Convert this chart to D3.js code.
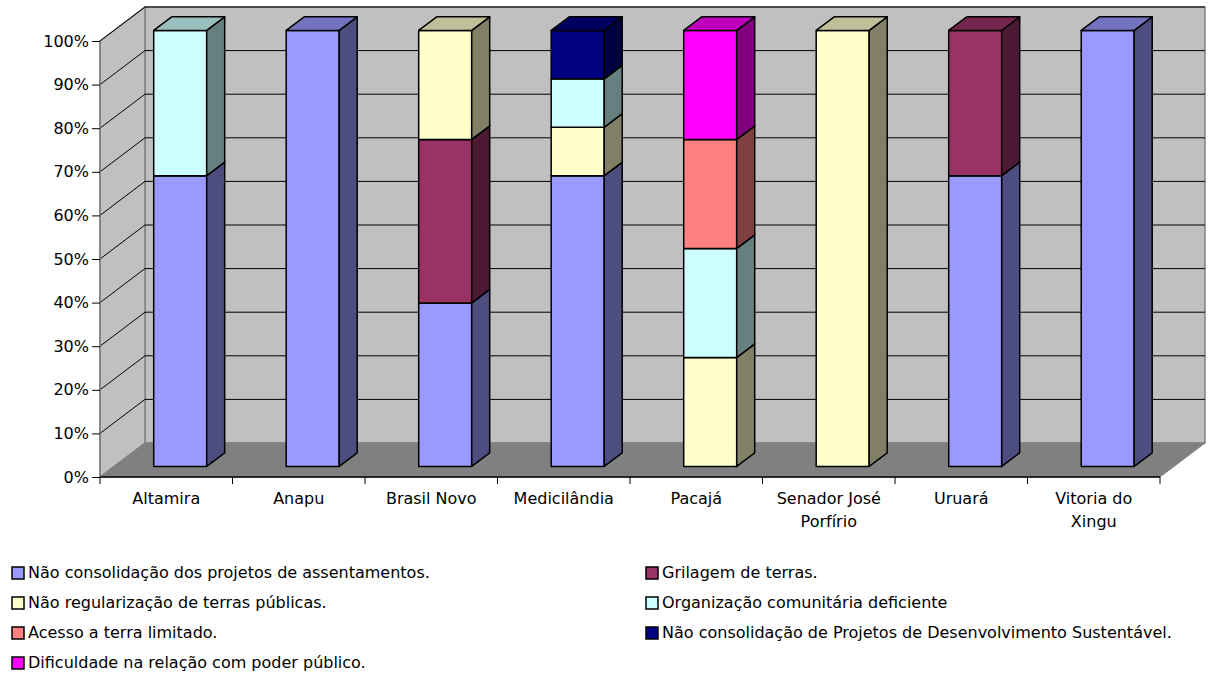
<!DOCTYPE html>
<html>
<head>
<meta charset="utf-8">
<script src="https://cdn.jsdelivr.net/npm/d3@7"></script>
<style>
  body { margin: 0; background: #fff; }
  text { font-family: Verdana, "DejaVu Sans", sans-serif; fill: #000; }
</style>
</head>
<body>
<svg id="chart" width="1209" height="673"></svg>
<script>
// categories (municipios)
var categories = ["Altamira", "Anapu", "Brasil Novo", "Medicilândia", "Pacajá", "Senador José Porfírio", "Uruará", "Vitoria do Xingu"];

// series names, in stacking order
var seriesNames = [
  "Não consolidação dos projetos de assentamentos.",
  "Grilagem de terras.",
  "Não regularização de terras públicas.",
  "Organização comunitária deficiente",
  "Acesso a terra limitado.",
  "Não consolidação de Projetos de Desenvolvimento Sustentável.",
  "Dificuldade na relação com poder público."
];
var seriesColors = ["#9999FF", "#993366", "#FFFFCC", "#CCFFFF", "#FF8080", "#000080", "#FF00FF"];

// shares per category, one array per series (fractions of 1)
var naoConsolidacaoPA  = [0.667, 1, 0.375, 0.667, 0,    0, 0.667, 1];
var grilagem           = [0,     0, 0.375, 0,     0,    0, 0.333, 0];
var naoRegularizacao   = [0,     0, 0.25,  0.111, 0.25, 1, 0,     0];
var organizacao        = [0.333, 0, 0,     0.111, 0.25, 0, 0,     0];
var acessoTerra        = [0,     0, 0,     0,     0.25, 0, 0,     0];
var naoConsolidacaoPDS = [0,     0, 0,     0.111, 0,    0, 0,     0];
var dificuldade        = [0,     0, 0,     0,     0.25, 0, 0,     0];
var seriesValues = [naoConsolidacaoPA, grilagem, naoRegularizacao, organizacao, acessoTerra, naoConsolidacaoPDS, dificuldade];

var yTicks = [0, 0.1, 0.2, 0.3, 0.4, 0.5, 0.6, 0.7, 0.8, 0.9, 1];

var svg = d3.select("#chart");
var fontSize = "16px";

// front plane of the 3D box
var plotLeft = 100, plotRight = 1160, plotBottom = 477, plotTop = 41;
var depthX = 45, depthY = -34;
var barZ0 = 0.31, barZ1 = 0.71;

var x = d3.scaleBand().domain(categories).range([plotLeft, plotRight]).paddingInner(0.6).paddingOuter(0.3);
var y = d3.scaleLinear().domain([0, 1]).range([plotBottom, plotTop]);

function P(px, py, z) { return [px + z * depthX, py + z * depthY]; }
function poly(pts) { return pts.map(function(p) { return p.join(","); }).join(" "); }

// walls and floor
svg.append("polygon") // back wall
  .attr("points", poly([P(plotLeft, y(1), 1), P(plotRight, y(1), 1), P(plotRight, y(0), 1), P(plotLeft, y(0), 1)]))
  .attr("fill", "#C0C0C0").attr("stroke", "#808080").attr("stroke-width", 1.5);
svg.append("polygon") // side wall
  .attr("points", poly([P(plotLeft, y(0), 0), P(plotLeft, y(1), 0), P(plotLeft, y(1), 1), P(plotLeft, y(0), 1)]))
  .attr("fill", "#C0C0C0").attr("stroke", "#808080").attr("stroke-width", 1.5);
svg.append("polygon") // floor
  .attr("points", poly([P(plotLeft, y(0), 0), P(plotRight, y(0), 0), P(plotRight, y(0), 1), P(plotLeft, y(0), 1)]))
  .attr("fill", "#808080").attr("stroke", "#808080").attr("stroke-width", 1);

// gridlines
var grid = svg.append("g");
yTicks.slice(1).forEach(function(t) {
  var a = P(plotLeft, y(t), 0), b = P(plotLeft, y(t), 1), c = P(plotRight, y(t), 1);
  grid.append("polyline")
    .attr("points", poly([a, b, c]))
    .attr("fill", "none").attr("stroke", "#000").attr("stroke-width", 1);
});

// axes
svg.append("line").attr("x1", plotLeft).attr("x2", plotLeft).attr("y1", y(0)).attr("y2", y(1))
  .attr("stroke", "#808080").attr("stroke-width", 1.5);
svg.append("line").attr("x1", plotLeft).attr("x2", plotRight).attr("y1", y(0)).attr("y2", y(0))
  .attr("stroke", "#000").attr("stroke-width", 1.5);

var yAxis = svg.append("g").attr("transform", "translate(" + plotLeft + ",0)")
  .call(d3.axisLeft(y).tickValues(yTicks).tickFormat(d3.format(".0%")).tickSize(8).tickPadding(3));
yAxis.select(".domain").remove();
yAxis.selectAll("text").style("font-size", fontSize).attr("font-family", null);

var xTicks = categories.map(function(c) { return x(c) - x.step() * x.paddingInner() / 2; });
xTicks.push(plotRight);
svg.selectAll(".xtick").data(xTicks).enter().append("line")
  .attr("x1", function(d) { return d; }).attr("x2", function(d) { return d; })
  .attr("y1", y(0)).attr("y2", y(0) + 7)
  .attr("stroke", "#000").attr("stroke-width", 1);

// category labels with wrapping
function wrapWords(txt, maxW, meas) {
  var words = txt.split(" "), lines = [], cur = "";
  words.forEach(function(w) {
    var test = cur ? cur + " " + w : w;
    if (cur && meas(test) > maxW) { lines.push(cur); cur = w; } else cur = test;
  });
  lines.push(cur);
  return lines;
}
var measurer = svg.append("text").style("font-size", fontSize).attr("visibility", "hidden");
function meas(s) { measurer.text(s); return measurer.node().getComputedTextLength(); }

categories.forEach(function(c) {
  var lines = wrapWords(c, 120, meas);
  var cx = x(c) + x.bandwidth() / 2;
  var t = svg.append("text").attr("text-anchor", "middle").style("font-size", fontSize)
    .attr("x", cx).attr("y", 504);
  lines.forEach(function(l, i) {
    t.append("tspan").attr("x", cx).attr("dy", i ? 23 : 0).text(l);
  });
});
measurer.remove();

// stacked 3D bars
var rows = categories.map(function(c, i) {
  var r = { cat: c };
  seriesNames.forEach(function(s, j) { r[s] = seriesValues[j][i]; });
  return r;
});
var stack = d3.stack().keys(seriesNames)(rows);

function shade(col, k) {
  var c = d3.rgb(col);
  return d3.rgb(c.r * k, c.g * k, c.b * k).toString();
}

var bars = svg.append("g");
categories.forEach(function(c, i) {
  var x0 = x(c), x1 = x(c) + x.bandwidth();
  stack.forEach(function(layer, j) {
    var d = layer[i];
    if (d[1] - d[0] <= 0) return;
    var y0 = y(d[0]), y1 = y(d[1]);
    var col = seriesColors[j];
    var g = bars.append("g").attr("stroke", "#000").attr("stroke-width", 1.5).attr("stroke-linejoin", "round");
    g.append("polygon") // front
      .attr("points", poly([P(x0, y0, barZ0), P(x1, y0, barZ0), P(x1, y1, barZ0), P(x0, y1, barZ0)]))
      .attr("fill", col);
    g.append("polygon") // side
      .attr("points", poly([P(x1, y0, barZ0), P(x1, y0, barZ1), P(x1, y1, barZ1), P(x1, y1, barZ0)]))
      .attr("fill", shade(col, 0.5));
    g.append("polygon") // top
      .attr("points", poly([P(x0, y1, barZ0), P(x1, y1, barZ0), P(x1, y1, barZ1), P(x0, y1, barZ1)]))
      .attr("fill", shade(col, 0.75));
  });
});

// legend, two columns, row-major
var legend = svg.append("g");
seriesNames.forEach(function(s, j) {
  var col = j % 2, row = Math.floor(j / 2);
  var lx = col ? 646 : 12, ly = 573 + row * 30;
  legend.append("rect").attr("x", lx).attr("y", ly - 6).attr("width", 12).attr("height", 12)
    .attr("fill", seriesColors[j]).attr("stroke", "#000").attr("stroke-width", 1.5);
  legend.append("text").attr("x", lx + 16).attr("y", ly).attr("dy", "0.33em")
    .style("font-size", fontSize).text(s);
});
</script>
</body>
</html>
